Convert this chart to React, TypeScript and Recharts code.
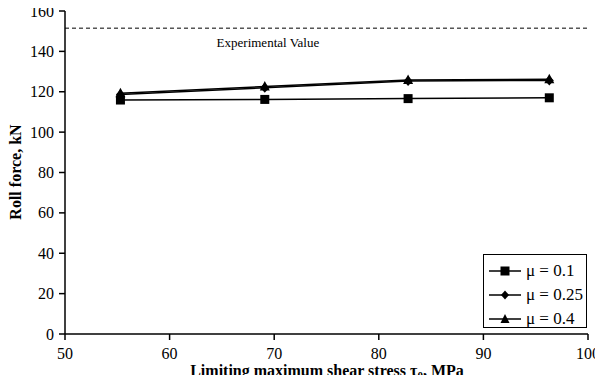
import React from "react";
import {
  Line,
  LineChart,
  ReferenceDot,
  ReferenceLine,
  XAxis,
  YAxis,
} from "recharts";

const shearStress = [55.3, 69.1, 82.8, 96.3];
const mu01 = [115.9, 116.2, 116.6, 117.0];
const mu025 = [118.6, 122.0, 125.3, 125.6];
const mu04 = [119.2, 122.6, 125.8, 126.2];
const xTicks = [50, 60, 70, 80, 90, 100];
const yTicks = [0, 20, 40, 60, 80, 100, 120, 140, 160];
const experimentalValue = 151.5;

const data = shearStress.map((x, i) => ({
  x,
  mu01: mu01[i],
  mu025: mu025[i],
  mu04: mu04[i],
}));

const FONT = "Liberation Serif";

const Square = (props: any) => {
  const { cx, cy, key } = props;
  if (cx == null || cy == null) return <g key={key} />;
  return <rect key={key} x={cx - 4.5} y={cy - 4.5} width={9} height={9} fill="#000" />;
};

const Diamond = (props: any) => {
  const { cx, cy, key } = props;
  if (cx == null || cy == null) return <g key={key} />;
  return (
    <path key={key} d={`M${cx},${cy - 5}L${cx + 4.5},${cy}L${cx},${cy + 5}L${cx - 4.5},${cy}Z`} fill="#000" />
  );
};

const Triangle = (props: any) => {
  const { cx, cy, key } = props;
  if (cx == null || cy == null) return <g key={key} />;
  return <path key={key} d={`M${cx},${cy - 5.5}L${cx + 5},${cy + 4}L${cx - 5},${cy + 4}Z`} fill="#000" />;
};

const legendRows = [
  { label: "μ = 0.1", shape: "square" },
  { label: "μ = 0.25", shape: "diamond" },
  { label: "μ = 0.4", shape: "triangle" },
];

function LegendBox() {
  return (
    <div
      style={{
        position: "absolute",
        left: 483,
        top: 254,
        border: "1px solid #000",
        background: "#fff",
        width: 104,
        height: 74,
        boxSizing: "border-box",
        padding: "4px 0 0 5px",
        fontFamily: FONT,
        fontSize: 17,
        lineHeight: "24px",
        color: "#000",
      }}
    >
      {legendRows.map((r) => (
        <div key={r.label} style={{ display: "flex", alignItems: "center", height: 24 }}>
          <svg width={34} height={12}>
            <line x1={0} y1={6} x2={32} y2={6} stroke="#000" strokeWidth={1.5} />
            {r.shape === "square" && <rect x={11.5} y={1.5} width={9} height={9} fill="#000" />}
            {r.shape === "diamond" && <path d="M16,1.5L20,6L16,10.5L12,6Z" fill="#000" />}
            {r.shape === "triangle" && <path d="M16,1L20.5,10L11.5,10Z" fill="#000" />}
          </svg>
          <span style={{ marginLeft: 3 }}>{r.label}</span>
        </div>
      ))}
    </div>
  );
}

const XLabel = () => (
  <text x={327} y={376} textAnchor="middle" fontFamily={FONT} fontSize={16} fontWeight="bold" fill="#000">
    Limiting maximum shear stress τ
    <tspan fontSize={11} dy={3}>0</tspan>
    <tspan dy={-3}>, MPa</tspan>
  </text>
);

const YLabel = () => (
  <text
    x={0}
    y={0}
    transform="translate(21,172) rotate(-90)"
    textAnchor="middle"
    fontFamily={FONT}
    fontSize={16}
    fontWeight="bold"
    fill="#000"
  >
    Roll force, kN
  </text>
);

const XTick = (props: any) => {
  const { x, y, payload } = props;
  return (
    <text x={x} y={y + 17} textAnchor="middle" fontFamily={FONT} fontSize={16} fill="#000">
      {payload.value}
    </text>
  );
};

const YTick = (props: any) => {
  const { x, y, payload } = props;
  return (
    <text x={x - 3} y={y + 5.5} textAnchor="end" fontFamily={FONT} fontSize={16} fill="#000">
      {payload.value}
    </text>
  );
};

export default function App() {
  return (
    <div style={{ margin: -8, background: "#fff", width: 603, height: 383, position: "relative", fontFamily: FONT }}>
      <LineChart width={603} height={383} data={data} margin={{ top: 11, right: 15, bottom: 0, left: 0 }}>
        <XAxis
          dataKey="x"
          type="number"
          domain={[50, 100]}
          ticks={xTicks}
          tickSize={6}
          stroke="#000"
          strokeWidth={1.5}
          height={49}
          tick={<XTick />}
          label={<XLabel />}
        />
        <XAxis xAxisId="top" orientation="top" dataKey="x" type="number" domain={[50, 100]} tick={false} tickLine={false} height={0} stroke="#000" strokeWidth={1.5} />
        <YAxis
          type="number"
          domain={[0, 160]}
          ticks={yTicks}
          tickSize={6}
          width={65}
          stroke="#000"
          strokeWidth={1.5}
          tick={<YTick />}
          label={<YLabel />}
        />
        <YAxis yAxisId="right" orientation="right" domain={[0, 160]} tick={false} tickLine={false} width={0} stroke="#000" strokeWidth={1.5} />
        <ReferenceLine y={experimentalValue} stroke="#000" strokeDasharray="4 3" strokeWidth={1} />
        <ReferenceDot
          x={69.4}
          y={142.2}
          r={0}
          fill="none"
          stroke="none"
          label={<text x={268} y={51} textAnchor="middle" fontFamily={FONT} fontSize={13} fill="#000">Experimental Value</text>}
        />
        <Line dataKey="mu01" stroke="#000" strokeWidth={1.5} dot={<Square />} isAnimationActive={false} />
        <Line dataKey="mu025" stroke="#000" strokeWidth={1.5} dot={<Diamond />} isAnimationActive={false} />
        <Line dataKey="mu04" stroke="#000" strokeWidth={1.5} dot={<Triangle />} isAnimationActive={false} />
      </LineChart>
      <LegendBox />
    </div>
  );
}
